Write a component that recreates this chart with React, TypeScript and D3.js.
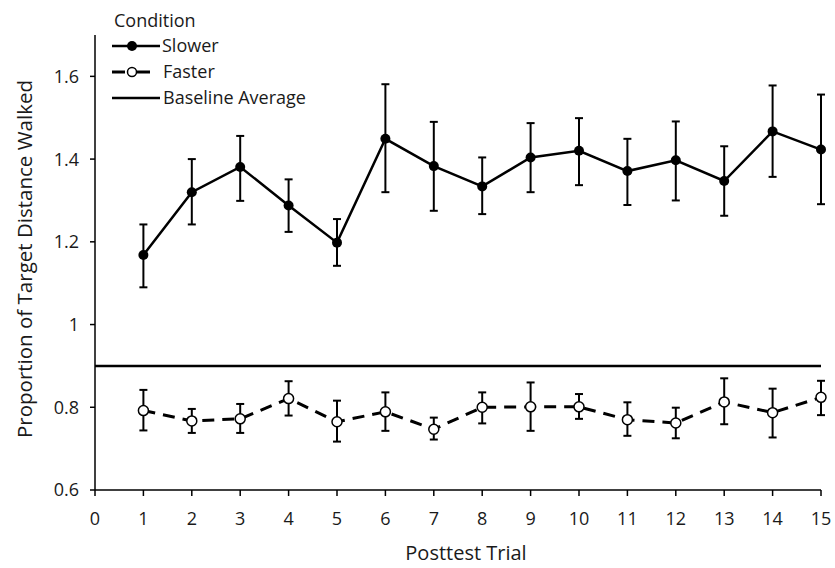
import React from 'react';
import * as d3 from 'd3';

const trials = [1, 2, 3, 4, 5, 6, 7, 8, 9, 10, 11, 12, 13, 14, 15];
const slowerMean = [1.168, 1.32, 1.381, 1.288, 1.198, 1.449, 1.383, 1.334, 1.404, 1.42, 1.371, 1.397, 1.347, 1.467, 1.423];
const slowerHigh = [1.242, 1.4, 1.456, 1.351, 1.255, 1.581, 1.49, 1.404, 1.487, 1.499, 1.449, 1.491, 1.431, 1.578, 1.556];
const slowerLow = [1.09, 1.242, 1.299, 1.224, 1.142, 1.32, 1.275, 1.267, 1.32, 1.337, 1.289, 1.3, 1.263, 1.357, 1.291];
const fasterMean = [0.792, 0.767, 0.772, 0.821, 0.765, 0.789, 0.747, 0.8, 0.801, 0.801, 0.77, 0.762, 0.813, 0.787, 0.824];
const fasterHigh = [0.842, 0.796, 0.808, 0.863, 0.816, 0.836, 0.775, 0.836, 0.86, 0.832, 0.812, 0.799, 0.87, 0.845, 0.864];
const fasterLow = [0.744, 0.738, 0.738, 0.78, 0.717, 0.743, 0.722, 0.761, 0.743, 0.772, 0.731, 0.725, 0.759, 0.727, 0.781];
const baseline = 0.9;
const xTicks = [0, 1, 2, 3, 4, 5, 6, 7, 8, 9, 10, 11, 12, 13, 14, 15];
const yTicks = [0.6, 0.8, 1, 1.2, 1.4, 1.6];

const W = 835;
const H = 568;
const font = '"Open Sans", "Noto Sans", sans-serif';
const ink = '#1a1a1a';

const x = d3.scaleLinear().domain([0, 15]).range([95, 821]);
const y = d3.scaleLinear().domain([0.6, 1.7]).range([490, 35]);
const fmt = d3.format('~g');

const line = d3.line<number>()
  .x((_, i) => x(trials[i]))
  .y(d => y(d));

function ErrorBars({ high, low }: { high: number[]; low: number[] }) {
  return (
    <g stroke="#000" strokeWidth={2} fill="none">
      {trials.map((t, i) => (
        <g key={t}>
          <line x1={x(t)} x2={x(t)} y1={y(high[i])} y2={y(low[i])} />
          <line x1={x(t) - 4} x2={x(t) + 4} y1={y(high[i])} y2={y(high[i])} />
          <line x1={x(t) - 4} x2={x(t) + 4} y1={y(low[i])} y2={y(low[i])} />
        </g>
      ))}
    </g>
  );
}

export default function App() {
  return (
    <svg width={W} height={H} style={{ position: 'absolute', left: 0, top: 0, background: '#fff' }} fontFamily={font}>
      {/* axes */}
      <line x1={x(0)} x2={x(0)} y1={y(1.7)} y2={y(0.6)} stroke="#000" strokeWidth={1.5} />
      <line x1={x(0)} x2={x(15)} y1={y(0.6)} y2={y(0.6)} stroke="#000" strokeWidth={1.5} />
      {yTicks.map(t => (
        <g key={t}>
          <line x1={x(0) - 5} x2={x(0)} y1={y(t)} y2={y(t)} stroke="#000" strokeWidth={1.5} />
          <text x={79} y={y(t)} dy="0.36em" textAnchor="end" fontSize={18} fill={ink}>{fmt(t)}</text>
        </g>
      ))}
      {xTicks.map(t => (
        <g key={t}>
          <line x1={x(t)} x2={x(t)} y1={y(0.6)} y2={y(0.6) + 6} stroke="#000" strokeWidth={1.5} />
          <text x={x(t)} y={525} textAnchor="middle" fontSize={18} fill={ink}>{t}</text>
        </g>
      ))}
      <text x={466} y={560} textAnchor="middle" fontSize={20} fill={ink}>Posttest Trial</text>
      <text transform="translate(32, 259) rotate(-90)" textAnchor="middle" fontSize={20.5} fill={ink}>
        Proportion of Target Distance Walked
      </text>

      {/* baseline */}
      <line x1={x(0)} x2={x(15)} y1={y(baseline)} y2={y(baseline)} stroke="#000" strokeWidth={2.5} />

      {/* slower */}
      <ErrorBars high={slowerHigh} low={slowerLow} />
      <path d={line(slowerMean) || ''} fill="none" stroke="#000" strokeWidth={2.5} />
      {trials.map((t, i) => (
        <circle key={t} cx={x(t)} cy={y(slowerMean[i])} r={5} fill="#000" />
      ))}

      {/* faster */}
      <ErrorBars high={fasterHigh} low={fasterLow} />
      <path d={line(fasterMean) || ''} fill="none" stroke="#000" strokeWidth={3} strokeDasharray="12,8" />
      {trials.map((t, i) => (
        <circle key={t} cx={x(t)} cy={y(fasterMean[i])} r={5} fill="#fff" stroke="#000" strokeWidth={1.5} />
      ))}

      {/* legend */}
      <text x={114} y={27} fontSize={18} fill={ink}>Condition</text>
      <line x1={112} x2={160} y1={46} y2={46} stroke="#000" strokeWidth={2.5} />
      <circle cx={132} cy={46} r={5} fill="#000" />
      <text x={162} y={52} fontSize={18} fill={ink}>Slower</text>
      <line x1={112} x2={125} y1={72} y2={72} stroke="#000" strokeWidth={3} />
      <line x1={137} x2={150} y1={72} y2={72} stroke="#000" strokeWidth={3} />
      <circle cx={132} cy={72} r={4.5} fill="#fff" stroke="#000" strokeWidth={1.5} />
      <text x={163} y={78} fontSize={18} fill={ink}>Faster</text>
      <line x1={112} x2={160} y1={98} y2={98} stroke="#000" strokeWidth={2.5} />
      <text x={163} y={104} fontSize={18} fill={ink}>Baseline Average</text>
    </svg>
  );
}
